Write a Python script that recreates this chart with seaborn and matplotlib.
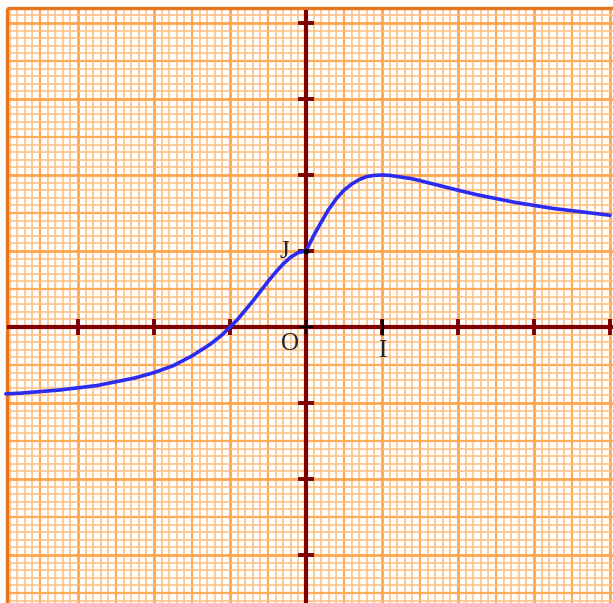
import matplotlib
matplotlib.use("Agg")
import matplotlib.pyplot as plt
import numpy as np
import pandas as pd
import seaborn as sns

# curve values (x in units, y in units)
x_left = [-3.95, -3.75, -3.5, -3.25, -3.0, -2.75, -2.5, -2.25, -2.0, -1.75,
          -1.5, -1.25, -1.1, -1.0, -0.9, -0.8, -0.7, -0.6, -0.5, -0.4,
          -0.3, -0.2, -0.1, 0.0]
y_left = [-0.88, -0.87, -0.85, -0.83, -0.80, -0.77, -0.72, -0.67, -0.60, -0.51,
          -0.38, -0.22, -0.10, 0.00, 0.10, 0.22, 0.34, 0.47, 0.60, 0.72,
          0.83, 0.92, 0.98, 1.00]
x_right = [0.0, 0.05, 0.1, 0.15, 0.2, 0.3, 0.4, 0.5, 0.6, 0.7, 0.8, 0.9,
           1.0, 1.1, 1.2, 1.4, 1.6, 1.8, 2.0, 2.25, 2.5, 2.75, 3.0, 3.25,
           3.5, 3.75, 4.0]
y_right = [1.00, 1.10, 1.20, 1.29, 1.38, 1.55, 1.69, 1.80, 1.88, 1.94, 1.98, 1.995,
           2.00, 1.995, 1.98, 1.95, 1.90, 1.85, 1.80, 1.74, 1.69, 1.64, 1.60, 1.56,
           1.53, 1.50, 1.47]

x_ticks = [-3, -2, -1, 1, 2, 3, 4]
y_ticks = [-3, -2, -1, 1, 2, 3, 4]
labels = {"O": (-0.21, -0.23), "I": (1.0, -0.31), "J": (-0.28, 0.99)}

curve = pd.DataFrame({"x": x_left + x_right[1:], "y": y_left + y_right[1:]})

sns.set_style("white")

fig = plt.figure(figsize=(6.13, 6.03), dpi=100)
ax = fig.add_axes([0, 0, 1, 1])
x0, x1 = -306 / 76, 307 / 76
y0, y1 = -276 / 76, 327 / 76
ax.set_xlim(x0, x1)
ax.set_ylim(y0, y1)
ax.axis("off")

# graph paper
left, top = -299 / 76, 319 / 76
gx = np.arange(-39, 41) / 10
gy = np.arange(-36, 43) / 10


def paper_style(v):
    k = int(round(v * 10))
    if k % 10 == 0:
        return 2.0, "#ffa54f"
    if k % 5 == 0:
        return 1.6, "#ffab5a"
    return 1.1, "#ffbf80"


for v in gx:
    lw, c = paper_style(v)
    ax.vlines(v, y0, top, color=c, lw=lw, zorder=1)
for v in gy:
    lw, c = paper_style(v)
    ax.hlines(v, left, x1, color=c, lw=lw, zorder=1)
ax.vlines(left, y0, top, color="#e8741c", lw=2.4, zorder=2)
ax.hlines(top, left, x1, color="#e8741c", lw=2.4, zorder=2)

# axes
red = "#800000"
ax.hlines(0, left, x1, color=red, lw=3, zorder=3)
ax.vlines(0, y0, top - 0.02, color=red, lw=3, zorder=3)
ax.plot(x_ticks, [0] * len(x_ticks), ls="none", marker="|", ms=11,
        mew=2.8, color=red, zorder=4)
ax.plot([0] * len(y_ticks), y_ticks, ls="none", marker="_", ms=11,
        mew=2.8, color=red, zorder=4)
ax.plot([1], [0], ls="none", marker="|", ms=11, mew=2.2, color="black", zorder=5)
ax.plot([0], [0], ls="none", marker="+", ms=10, mew=1.6, color="black", zorder=5)

sns.lineplot(data=curve, x="x", y="y", color="#2b2bf2", lw=2.6, ax=ax,
             sort=False, zorder=6)
ax.plot([0], [1], ls="none", marker="o", ms=3, color="black", zorder=7)

for name, (lx, ly) in labels.items():
    ax.text(lx, ly, name, family="Liberation Serif", fontsize=18,
            ha="center", va="center", zorder=8)

fig.savefig("out.png", dpi=100)
